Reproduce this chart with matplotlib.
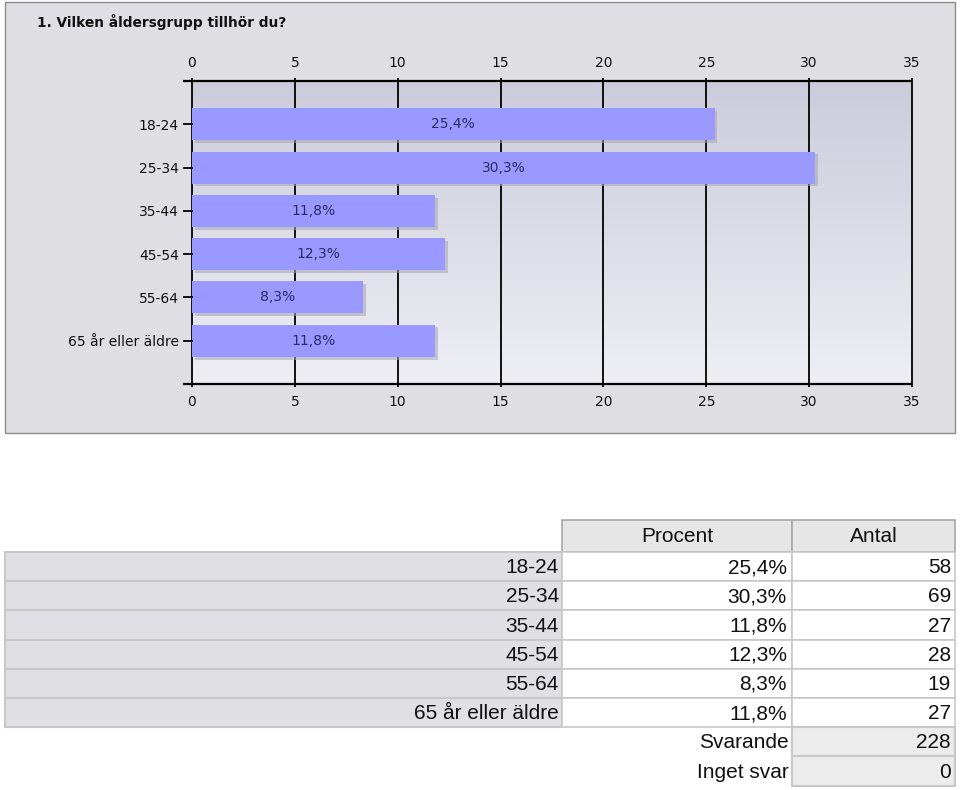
import numpy as np
import matplotlib
matplotlib.use("Agg")
import matplotlib.pyplot as plt
from matplotlib.patches import Rectangle
import matplotlib.patheffects as pe

# ---------------- data ----------------
title = "1. Vilken åldersgrupp tillhör du?"
categories = ["18-24", "25-34", "35-44", "45-54", "55-64", "65 år eller äldre"]
percent = [25.4, 30.3, 11.8, 12.3, 8.3, 11.8]
counts = [58, 69, 27, 28, 19, 27]
x_ticks = [0, 5, 10, 15, 20, 25, 30, 35]
header = ["Procent", "Antal"]
summary_labels = ["Svarande", "Inget svar"]
summary_values = [228, 0]


def fmt_pct(v):
    return f"{v:.1f}".replace(".", ",") + "%"


W, H = 960, 790
fig = plt.figure(figsize=(W / 100, H / 100), dpi=100)
fig.patch.set_facecolor("white")

# background / table layer in pixel coordinates
bg = fig.add_axes([0, 0, 1, 1], zorder=0)
bg.set_xlim(0, W)
bg.set_ylim(H, 0)
bg.axis("off")

# chart panel
bg.add_patch(Rectangle((5, 2), 950, 431, facecolor="#dfdfe3", edgecolor="#8c8c8c", lw=1))
bg.text(37, 22, title, fontsize=9.9, fontweight="bold", color="#111111",
        family="DejaVu Sans", va="center", ha="left")

# ---------------- chart ----------------
cfs = 10
L, R, T, B = 192, 912, 81, 384
ax = fig.add_axes([L / W, 1 - B / H, (R - L) / W, (B - T) / H], zorder=2)
ax.set_xlim(0, 35)
ax.set_ylim(len(categories) + 1, 0)
ax.patch.set_visible(False)

# gradient plot area
grad = np.linspace(0, 1, 256).reshape(-1, 1)
c_top = np.array([0xcb, 0xcb, 0xdb]) / 255
c_bot = np.array([0xee, 0xee, 0xf4]) / 255
img = c_top + (c_bot - c_top) * grad[..., None]
img = np.repeat(img, 2, axis=1)
ax.imshow(img, extent=[0, 35, len(categories) + 1, 0], aspect="auto", zorder=0)

# gridlines
for t in x_ticks:
    ax.plot([t, t], [-0.08, len(categories) + 1.08], color="black", lw=1.3,
            zorder=1, clip_on=False, solid_capstyle="butt")
# axis lines (top and bottom), extending a bit left
for yv in [0, len(categories) + 1]:
    ax.plot([-0.45, 35], [yv, yv], color="black", lw=1.6, zorder=4, clip_on=False,
            solid_capstyle="butt")

ypos = np.arange(1, len(categories) + 1)
ax.barh(ypos, percent, height=0.74, color="#9999ff", zorder=2,
        path_effects=[pe.SimplePatchShadow(offset=(2, -2), shadow_rgbFace="#a4a4b4", alpha=0.55),
                      pe.Normal()])
for yv, v in zip(ypos, percent):
    ax.text(v / 2, yv, fmt_pct(v), ha="center", va="center", fontsize=cfs,
            color="#2b2b66", zorder=5, family="DejaVu Sans")

# left ticks
for yv in ypos:
    ax.plot([-0.4, 0], [yv, yv], color="black", lw=1.3, zorder=4, clip_on=False)
ax.set_yticks(ypos)
ax.set_yticklabels(categories, fontsize=cfs, color="#111111", family="DejaVu Sans")
ax.tick_params(axis="y", length=0, pad=9.5)

# top & bottom tick labels
ax.set_xticks(x_ticks)
ax.tick_params(axis="x", length=0, labelsize=cfs, pad=8, labeltop=True,
               labelbottom=True, labelcolor="#111111")
for s in ax.spines.values():
    s.set_visible(False)

# ---------------- table ----------------
tfs = 15
tfam = "Liberation Sans"
line_c = "#c8c8c8"
x0, x1, x2, x3 = 5, 562, 792, 955
hy0, hy1 = 520, 552
rh = 29.2

# header
for (a, b), lab in zip([(x1, x2), (x2, x3)], header):
    bg.add_patch(Rectangle((a, hy0), b - a, hy1 - hy0, facecolor="#e6e6e6",
                           edgecolor="#a8a8a8", lw=1.2))
    bg.text((a + b) / 2, (hy0 + hy1) / 2 + 1, lab, ha="center", va="center",
            fontsize=tfs, family=tfam, color="#111111")

for i, (cat, p, c) in enumerate(zip(categories, percent, counts)):
    y0 = hy1 + i * rh
    bg.add_patch(Rectangle((x0, y0), x1 - x0, rh, facecolor="#e0e0e4",
                           edgecolor=line_c, lw=1.5))
    bg.add_patch(Rectangle((x1, y0), x2 - x1, rh, facecolor="white",
                           edgecolor=line_c, lw=1.2))
    bg.add_patch(Rectangle((x2, y0), x3 - x2, rh, facecolor="white",
                           edgecolor=line_c, lw=1.2))
    yc = y0 + rh / 2 + 1
    bg.text(x1 - 3, yc, cat, ha="right", va="center", fontsize=tfs, family=tfam, color="#111111")
    bg.text(x2 - 5, yc, fmt_pct(p), ha="right", va="center", fontsize=tfs, family=tfam, color="#111111")
    bg.text(x3 - 4, yc, str(c), ha="right", va="center", fontsize=tfs, family=tfam, color="#111111")

for j, (lab, v) in enumerate(zip(summary_labels, summary_values)):
    y0 = hy1 + (len(categories) + j) * rh
    bg.add_patch(Rectangle((x2, y0), x3 - x2, rh, facecolor="#ececec",
                           edgecolor=line_c, lw=1.5))
    yc = y0 + rh / 2 + 1
    bg.text(x2 - 3, yc, lab, ha="right", va="center", fontsize=tfs, family=tfam, color="#111111")
    bg.text(x3 - 4, yc, str(v), ha="right", va="center", fontsize=tfs, family=tfam, color="#111111")

fig.savefig("out.png", dpi=100)
